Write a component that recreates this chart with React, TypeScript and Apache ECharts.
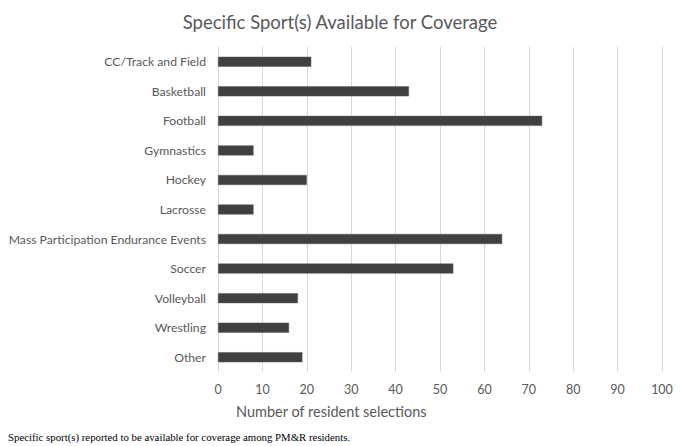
import React, { useEffect, useRef } from "react";
import * as echarts from "echarts";

const categories = [
  "CC/Track and Field",
  "Basketball",
  "Football",
  "Gymnastics",
  "Hockey",
  "Lacrosse",
  "Mass Participation Endurance Events",
  "Soccer",
  "Volleyball",
  "Wrestling",
  "Other",
];
const selections = [21, 43, 73, 8, 20, 8, 64, 53, 18, 16, 19];

const titleText = "Specific Sport(s) Available for Coverage";
const axisTitle = "Number of resident selections";
const footnote = "Specific sport(s) reported to be available for coverage among PM&R residents.";

export default function App() {
  const ref = useRef<HTMLDivElement>(null);
  useEffect(() => {
    document.body.style.margin = "0";
    if (!ref.current) return;
    const chart = echarts.init(ref.current, undefined, { renderer: "svg" });
    chart.setOption({
      animation: false,
      backgroundColor: "#ffffff",
      title: {
        text: titleText,
        left: "center",
        top: 7,
        textStyle: { fontFamily: "Lato", fontSize: 18.5, fontWeight: "normal", color: "#595959" },
      },
      grid: { left: 218, right: 18, top: 47, bottom: 74, containLabel: false },
      xAxis: {
        type: "value",
        min: 0,
        max: 100,
        interval: 10,
        axisLine: { show: false },
        axisTick: { show: false },
        axisLabel: { color: "#595959", fontFamily: "Lato", fontSize: 12.5, margin: 11 },
        splitLine: { show: true, lineStyle: { color: "#d9d9d9", width: 1 } },
      },
      yAxis: {
        type: "category",
        data: categories,
        inverse: true,
        axisLine: { show: true, lineStyle: { color: "#d9d9d9" } },
        axisTick: { show: false },
        axisLabel: { color: "#595959", fontFamily: "Lato", fontSize: 12.2, margin: 12 },
      },
      series: [
        {
          type: "bar",
          data: selections,
          barWidth: 10,
          itemStyle: { color: "#404040", borderColor: "#595959", borderWidth: 0.5 },
        },
      ],
      graphic: [
        {
          type: "text",
          left: 236,
          top: 404,
          style: { text: axisTitle, fill: "#595959", font: "14.5px Lato" },
        },
        {
          type: "text",
          left: 8,
          top: 431,
          style: { text: footnote, fill: "#000000", font: "10.8px 'Liberation Serif'" },
        },
      ],
    });
    return () => chart.dispose();
  }, []);
  return <div ref={ref} style={{ width: 680, height: 446 }} />;
}
